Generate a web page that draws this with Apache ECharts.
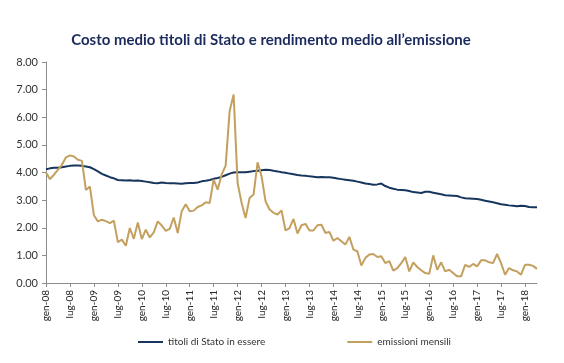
<!DOCTYPE html>
<html>
<head>
<meta charset="utf-8">
<script src="https://cdn.jsdelivr.net/npm/echarts@6/dist/echarts.min.js"></script>
<style>html,body{margin:0;padding:0;background:#fff}#c{width:564px;height:363px}</style>
</head>
<body>
<div id="c"></div>
<script>
var monthNames = ['gen','feb','mar','apr','mag','giu','lug','ago','set','ott','nov','dic'];
var startYear = 2008;
var nMonths = 124;
var categories = [];
for (var i = 0; i < nMonths; i++) {
  var y = startYear + Math.floor(i / 12);
  categories.push(monthNames[i % 12] + '-' + String(y).slice(2));
}

var titoliInEssere = [
  4.12,4.15,4.17,4.17,4.19,4.22,4.24,4.25,4.25,4.24,4.22,4.19,
  4.12,4.04,3.95,3.89,3.83,3.79,3.73,3.72,3.71,3.72,3.70,3.71,
  3.69,3.67,3.65,3.62,3.61,3.64,3.62,3.61,3.61,3.60,3.59,3.61,
  3.62,3.62,3.64,3.68,3.70,3.73,3.77,3.80,3.84,3.90,3.96,4.00,
  4.01,4.01,4.01,4.03,4.05,4.06,4.08,4.10,4.09,4.06,4.04,4.01,
  3.99,3.96,3.94,3.91,3.89,3.88,3.86,3.85,3.83,3.84,3.83,3.83,
  3.81,3.78,3.76,3.74,3.72,3.70,3.67,3.64,3.60,3.58,3.56,3.57,
  3.60,3.51,3.45,3.41,3.38,3.37,3.36,3.33,3.29,3.28,3.26,3.30,
  3.30,3.27,3.24,3.21,3.18,3.17,3.16,3.15,3.10,3.07,3.06,3.05,
  3.04,3.01,2.98,2.95,2.92,2.89,2.85,2.83,2.81,2.80,2.78,2.80,
  2.79,2.75,2.74,2.74
];

var emissioniMensili = [
  4.00,3.76,3.92,4.10,4.28,4.55,4.62,4.58,4.46,4.42,3.37,3.49,
  2.45,2.23,2.29,2.24,2.17,2.26,1.48,1.57,1.35,1.99,1.60,2.19,
  1.59,1.93,1.65,1.83,2.23,2.08,1.89,1.96,2.37,1.81,2.60,2.85,
  2.60,2.62,2.75,2.81,2.92,2.90,3.74,3.38,3.92,4.25,6.22,6.82,
  3.62,2.90,2.35,3.08,3.20,4.37,3.86,2.96,2.66,2.54,2.48,2.63,
  1.90,1.99,2.32,1.79,2.09,2.14,1.90,1.90,2.09,2.11,1.81,1.85,
  1.53,1.63,1.51,1.39,1.67,1.21,1.15,0.63,0.91,1.03,1.05,0.94,
  0.97,0.72,0.79,0.45,0.54,0.72,0.94,0.42,0.75,0.58,0.46,0.36,
  0.33,1.00,0.48,0.75,0.42,0.48,0.36,0.24,0.24,0.66,0.58,0.69,
  0.60,0.82,0.82,0.75,0.72,1.05,0.72,0.30,0.54,0.46,0.42,0.30,
  0.66,0.66,0.62,0.51
];

var chartTitle = "Costo medio titoli di Stato e rendimento medio all\u2019emissione";
var seriesNames = ['titoli di Stato in essere', 'emissioni mensili'];

var navy = '#17365d';
var gold = '#c4a05f';
var fontFam = 'Lato, "DejaVu Sans", sans-serif';

var chart = echarts.init(document.getElementById('c'), null, {renderer: 'canvas'});
chart.setOption({
  animation: false,
  backgroundColor: '#ffffff',
  title: {
    text: chartTitle,
    left: 266, top: 28,
    textAlign: 'center',
    textStyle: {fontFamily: fontFam, fontWeight: 'bold', fontSize: 15, color: '#1b2a5c'}
  },
  legend: {
    left: 133, top: 332,
    itemGap: 82,
    itemWidth: 25, itemHeight: 2,
    icon: 'rect',
    textStyle: {fontFamily: fontFam, fontSize: 10, color: '#333'},
    data: seriesNames
  },
  grid: {left: 46, right: 27, top: 62, bottom: 80},
  xAxis: {
    type: 'category',
    data: categories,
    boundaryGap: false,
    axisLine: {lineStyle: {color: '#8c8c8c', width: 1}},
    axisTick: {show: true, interval: 5, length: 4, lineStyle: {color: '#8c8c8c'}},
    axisLabel: {interval: 5, rotate: 90, fontFamily: fontFam, fontSize: 10, color: '#222', margin: 7},
    splitLine: {show: false}
  },
  yAxis: {
    type: 'value',
    min: 0, max: 8, interval: 1,
    axisLine: {show: true, lineStyle: {color: '#8c8c8c', width: 1}},
    axisTick: {show: true, length: 4, lineStyle: {color: '#8c8c8c'}},
    axisLabel: {fontFamily: fontFam, fontSize: 11, color: '#333', margin: 8,
      formatter: function (v) { return v.toFixed(2); }},
    splitLine: {show: false}
  },
  series: [
    {name: seriesNames[0], type: 'line', data: titoliInEssere, symbol: 'none',
     lineStyle: {color: navy, width: 2}, itemStyle: {color: navy}},
    {name: seriesNames[1], type: 'line', data: emissioniMensili, symbol: 'none',
     lineStyle: {color: gold, width: 2}, itemStyle: {color: gold}}
  ]
});
</script>
</body>
</html>
